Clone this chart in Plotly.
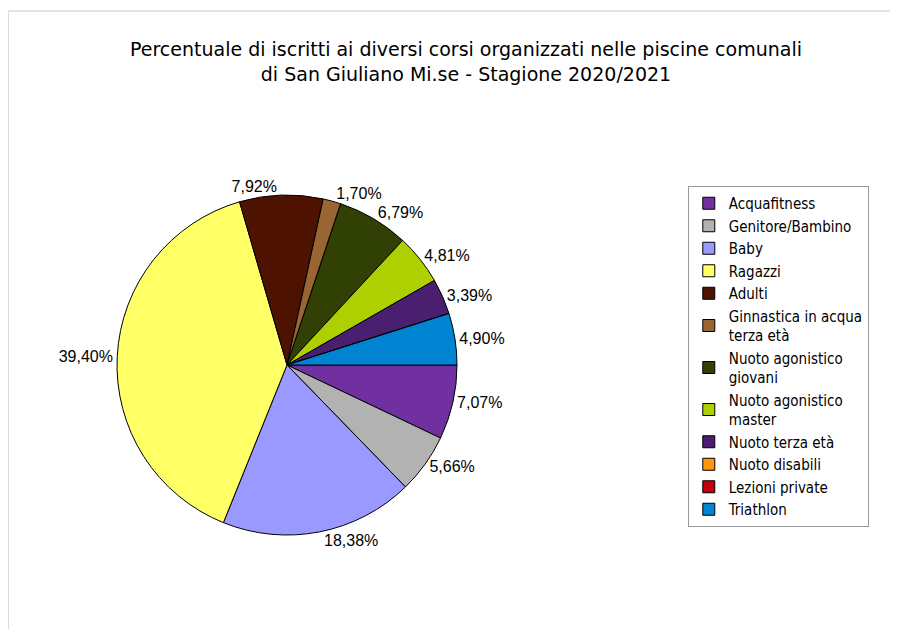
import plotly.graph_objects as go

# Iscritti ai corsi - stagione 2020/2021 (percentuali)
corsi = [
    "Acquafitness",
    "Genitore/Bambino",
    "Baby",
    "Ragazzi",
    "Adulti",
    "Ginnastica in acqua<br>terza età",
    "Nuoto agonistico<br>giovani",
    "Nuoto agonistico<br>master",
    "Nuoto terza età",
    "Nuoto disabili",
    "Lezioni private",
    "Triathlon",
]
percentuali = [7.07, 5.66, 18.38, 39.40, 7.92, 1.70, 6.79, 4.81, 3.39, 0, 0, 4.90]
colori = ["#7030a0", "#b2b2b2", "#9999ff", "#ffff66", "#4d1300", "#996633",
          "#314004", "#aecf00", "#4b1f6f", "#ff950e", "#c5000b", "#0084d1"]

etichette = [f"{v:.2f}%".replace(".", ",") if v > 0 else "" for v in percentuali]

W, H = 898, 629

fig = go.Figure()
fig.add_trace(go.Pie(
    labels=corsi,
    values=percentuali,
    text=etichette,
    textinfo="text",
    textposition="outside",
    sort=False,
    direction="clockwise",
    rotation=90,
    marker=dict(colors=colori, line=dict(color="black", width=1)),
    textfont=dict(family="Liberation Sans, Arial", size=16, color="black"),
    domain=dict(x=[0.1214, 0.5], y=[0.1621, 0.7027]),
    hoverinfo="label+percent",
))

# cornice grigia leggera (bordo superiore e sinistro)
fig.add_shape(type="line", xref="paper", yref="paper",
              x0=0, x1=1, y0=1 - 3 / H, y1=1 - 3 / H,
              line=dict(color="#c8c8c8", width=1))
fig.add_shape(type="line", xref="paper", yref="paper",
              x0=0.5 / W, x1=0.5 / W, y0=0, y1=1 - 3 / H,
              line=dict(color="#dcdcdc", width=1))

fig.update_layout(
    width=W,
    height=H,
    margin=dict(l=0, r=0, t=0, b=0),
    paper_bgcolor="white",
    title=dict(
        text="Percentuale di iscritti ai diversi corsi organizzati nelle piscine comunali<br>di San Giuliano Mi.se - Stagione 2020/2021",
        x=0.510, xanchor="center", y=0.923, yanchor="top",
        font=dict(family="DejaVu Sans", size=19, color="black"),
    ),
    legend=dict(
        x=0.757, y=0.717, xanchor="left", yanchor="top",
        bordercolor="#999999", borderwidth=1,
        font=dict(family="DejaVu Sans Condensed", size=15, color="black"),
        tracegroupgap=0,
    ),
)

fig.write_html("out.html")
